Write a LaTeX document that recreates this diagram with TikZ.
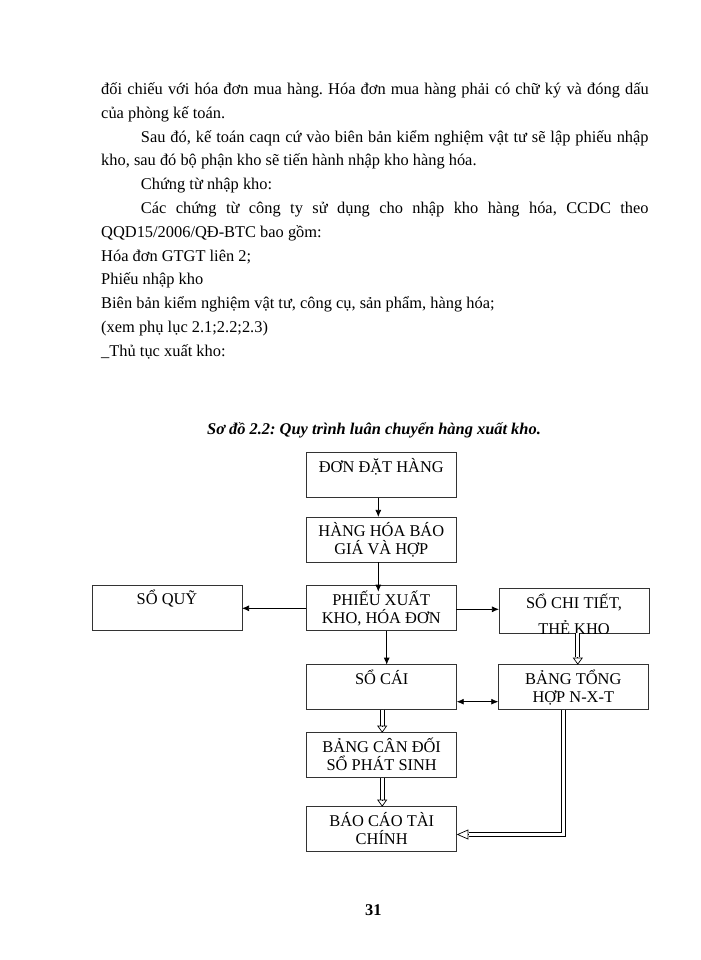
\documentclass[tikz,border=0pt]{standalone}
\usepackage{fontspec}
\setmainfont{Liberation Serif}
\usepackage{tikz}
\usetikzlibrary{arrows.meta}
\newcommand{\bxt}[2]{\rule{0pt}{14pt}#1\\#2\rule[-3.5pt]{0pt}{3.5pt}}
\frenchspacing

\begin{document}
\begin{tikzpicture}[x=0.3mm,y=-0.3mm]
    \tikzset{font={\fontsize{14pt}{15.5pt}\selectfont}}
    \tikzset{box/.style={draw=black!80,line width=.8pt,minimum width=45mm,minimum height=13.5mm,inner sep=0pt,outer sep=0pt,align=center}}
    \tikzset{txt/.style={anchor=base west,inner sep=0pt}}
    \tikzset{arr/.style={-{Latex[length=6pt,width=5pt]},line width=.6pt}}
    \tikzset{dbl/.style={double,double distance=2.8pt,line width=.6pt}}
    \tikzset{hol/.style={-{Triangle[open,length=6pt,width=8.5pt]},line width=.6pt}}
    \useasboundingbox (0,0) rectangle (700,960);
    % text of the page
    \node[txt] (line1) at (101,94.5) {\makebox[164.25mm][s]{đối chiếu với hóa đơn mua hàng. Hóa đơn mua hàng phải có chữ ký và đóng dấu}};
    \node[txt] (line2) at (101,118.3) {của phòng kế toán.};
    \node[txt] (line3) at (140.7,142.1) {\makebox[152.3mm][s]{Sau đó, kế toán caqn cứ vào biên bản kiểm nghiệm vật tư sẽ lập phiếu nhập}};
    \node[txt] (line4) at (101,165.9) {kho, sau đó bộ phận kho sẽ tiến hành nhập kho hàng hóa.};
    \node[txt] (line5) at (140.7,189.7) {Chứng từ nhập kho:};
    \node[txt] (line6) at (140.7,213.5) {\makebox[152.3mm][s]{Các chứng từ công ty sử dụng cho nhập kho hàng hóa, CCDC theo}};
    \node[txt] (line7) at (101,237.3) {QQD15/2006/QĐ-BTC bao gồm:};
    \node[txt] (line8) at (101,261.1) {Hóa đơn GTGT liên 2;};
    \node[txt] (line9) at (101,284.9) {Phiếu nhập kho};
    \node[txt] (line10) at (101,308.7) {Biên bản kiểm nghiệm vật tư, công cụ, sản phẩm, hàng hóa;};
    \node[txt] (line11) at (101,332.5) {(xem phụ lục 2.1;2.2;2.3)};
    \node[txt] (line12) at (101,356.3) {\_Thủ tục xuất kho:};
    \node[anchor=base,inner sep=0pt] (title) at (374,434) {\bfseries\itshape Sơ đồ 2.2: Quy trình luân chuyển hàng xuất kho.};
    % boxes
    \node[box] (don) at (381.3,475) {\bxt{ĐƠN ĐẶT HÀNG}{}};
    \node[box] (hanghoa) at (381.3,539.5) {\bxt{HÀNG HÓA BÁO}{GIÁ VÀ HỢP}};
    \node[box] (phieu) at (381.3,608.2) {\bxt{PHIẾU XUẤT}{KHO, HÓA ĐƠN}};
    \node[box] (soquy) at (167,607.5) {\bxt{SỔ QUỸ}{}};
    \node[box] (sochitiet) at (574,610.8) {};
    \begin{scope}
    \clip (sochitiet.south west) rectangle (sochitiet.north east);
    \node[anchor=base,inner sep=0pt] (sochitiet1) at (574,608.5) {SỔ CHI TIẾT,};
    \node[anchor=base,inner sep=0pt] (sochitiet2) at (574,634) {THẺ KHO};
    \end{scope}
    \node[box] (socai) at (381.7,687.2) {\bxt{SỔ CÁI}{}};
    \node[box] (bangtong) at (573.3,687.2) {\bxt{BẢNG TỔNG}{HỢP N-X-T}};
    \node[box] (bangcandoi) at (381.7,755.2) {\bxt{BẢNG CÂN ĐỐI}{SỔ PHÁT SINH}};
    \node[box] (baocao) at (381.7,829.2) {\bxt{BÁO CÁO TÀI}{CHÍNH}};
    \node[anchor=base,inner sep=0pt] (pageno) at (373.3,915) {\bfseries 31};
    % thin arrows
    \coordinate (phieuin) at (378.3,591.7);
    \draw[arr] (don.south -| 378.3,0) -- (hanghoa.north -| 378.3,0);
    \draw[arr] (hanghoa.south -| phieuin) -- (phieuin);
    \draw[arr] (phieu.west |- 0,608.3) -- (soquy.east |- 0,608.3);
    \draw[arr] (phieu.east |- 0,609.3) -- (sochitiet.west |- 0,609.3);
    \draw[arr] (phieu.south -| 386.7,0) -- (socai.north -| 386.7,0);
    \draw[arr,{Latex[length=6pt,width=5pt]}-{Latex[length=6pt,width=5pt]}] (socai.east |- 0,701.7) -- (bangtong.west |- 0,701.7);
    % hollow double arrows
    \coordinate (t1) at (577.8,657.2);
    \coordinate (t2) at (382.2,725.6);
    \coordinate (t3) at (382.2,799.6);
    \coordinate (t4) at (468.5,834.5);
    \draw[dbl] (sochitiet.south -| t1) -- (t1);
    \draw[hol] (t1) -- (bangtong.north -| t1);
    \draw[dbl] (socai.south -| t2) -- (t2);
    \draw[hol] (t2) -- (bangcandoi.north -| t2);
    \draw[dbl] (bangcandoi.south -| t3) -- (t3);
    \draw[hol] (t3) -- (baocao.north -| t3);
    \draw[dbl] (bangtong.south -| 563.6,0) |- (t4);
    \draw[hol,-{Triangle[open,length=10pt,width=8.5pt]}] (t4) -- (baocao.east |- t4);
\end{tikzpicture}
\end{document}
